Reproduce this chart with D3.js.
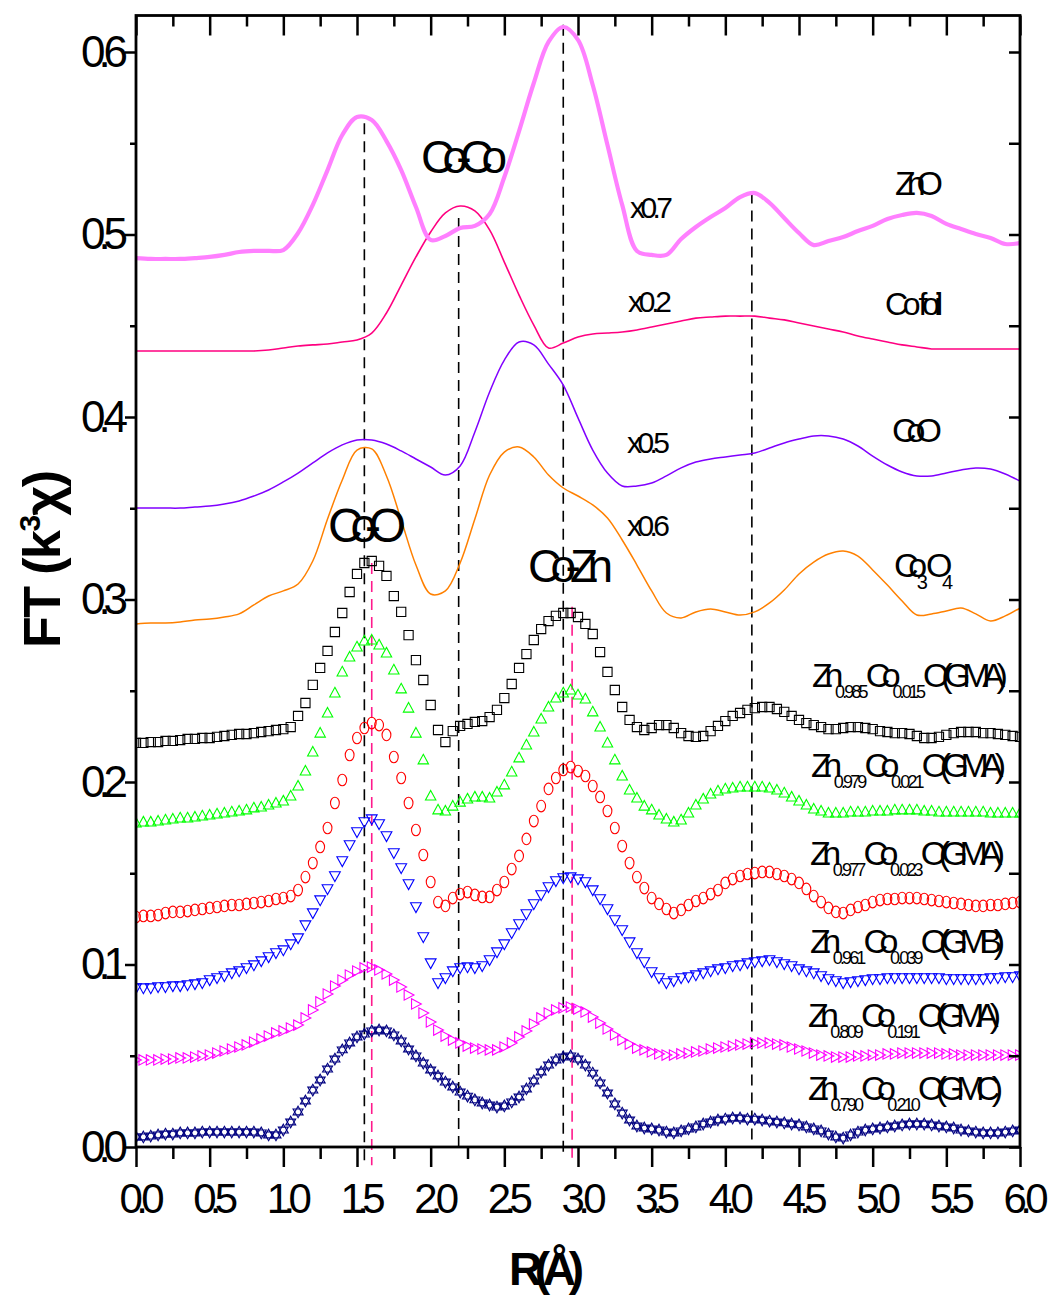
<!DOCTYPE html>
<html>
<head>
<meta charset="utf-8">
<title>Fourier transforms of k3-weighted EXAFS, Co K-edge</title>
<script src="https://cdn.jsdelivr.net/npm/d3@7"></script>
<style>
  html, body { margin: 0; padding: 0; background: #ffffff; }
  svg { display: block; font-family: "Liberation Sans", Arial, Helvetica, sans-serif; }
</style>
</head>
<body>
<svg id="chart" width="1051" height="1296"></svg>
<script>
// ---------- R grids (Å) ----------
const rLine = d3.range(61).map(i => i / 10);   // 0.0 … 6.0, step 0.1
const rSym  = d3.range(121).map(i => i / 20);  // 0.00 … 6.00, step 0.05

// ---------- reference compounds (offset, scaled traces) ----------
const znO = [
  0.4871,0.4866,0.4866,0.4866,0.4871,0.4877,0.4888,0.4904,0.4910,0.4910,
  0.4915,0.5008,0.5162,0.5353,0.5545,0.5644,0.5627,0.5512,0.5353,0.5151,
  0.4970,0.4992,0.5036,0.5047,0.5112,0.5315,0.5567,0.5830,0.6055,0.6137,
  0.6066,0.5819,0.5490,0.5162,0.4910,0.4888,0.4888,0.4975,0.5041,0.5096,
  0.5145,0.5205,0.5227,0.5173,0.5090,0.5008,0.4942,0.4964,0.4986,0.5019,
  0.5047,0.5085,0.5107,0.5118,0.5101,0.5058,0.5030,0.5003,0.4981,0.4948,
  0.4953];
const coFoil = [
  0.4362,0.4362,0.4362,0.4362,0.4362,0.4362,0.4362,0.4362,0.4362,0.4367,
  0.4378,0.4389,0.4395,0.4400,0.4411,0.4422,0.4460,0.4570,0.4723,0.4877,
  0.5014,0.5118,0.5156,0.5129,0.5025,0.4849,0.4668,0.4504,0.4378,0.4405,
  0.4438,0.4455,0.4460,0.4466,0.4477,0.4493,0.4510,0.4526,0.4542,0.4548,
  0.4553,0.4553,0.4553,0.4542,0.4532,0.4515,0.4499,0.4482,0.4466,0.4444,
  0.4427,0.4411,0.4395,0.4384,0.4373,0.4373,0.4373,0.4373,0.4373,0.4373,
  0.4373];
const coO = [
  0.3501,0.3501,0.3501,0.3501,0.3507,0.3512,0.3523,0.3540,0.3567,0.3600,
  0.3644,0.3693,0.3748,0.3803,0.3847,0.3874,0.3874,0.3852,0.3814,0.3770,
  0.3726,0.3682,0.3732,0.3918,0.4137,0.4312,0.4411,0.4395,0.4290,0.4175,
  0.3995,0.3819,0.3693,0.3622,0.3622,0.3638,0.3677,0.3721,0.3753,0.3770,
  0.3781,0.3792,0.3803,0.3830,0.3858,0.3879,0.3896,0.3896,0.3879,0.3841,
  0.3786,0.3737,0.3699,0.3677,0.3677,0.3693,0.3710,0.3721,0.3715,0.3688,
  0.3649];
const co3o4 = [
  0.2866,0.2871,0.2871,0.2877,0.2888,0.2893,0.2904,0.2921,0.2970,0.3019,
  0.3047,0.3085,0.3211,0.3441,0.3655,0.3819,0.3825,0.3677,0.3436,0.3189,
  0.3030,0.3047,0.3200,0.3441,0.3682,0.3808,0.3836,0.3781,0.3682,0.3611,
  0.3567,0.3518,0.3447,0.3326,0.3189,0.3047,0.2926,0.2899,0.2932,0.2948,
  0.2932,0.2915,0.2932,0.2981,0.3052,0.3140,0.3205,0.3249,0.3266,0.3238,
  0.3162,0.3079,0.2992,0.2915,0.2921,0.2937,0.2953,0.2921,0.2882,0.2910,
  0.2953];

// ---------- Zn(1-x)Co(x)O films (symbols, offset) ----------
const zn985 = [
  0.2214,0.2214,0.2219,0.2219,0.2225,0.2225,0.2230,0.2236,0.2236,0.2241,
  0.2241,0.2247,0.2252,0.2258,0.2263,0.2263,0.2268,0.2274,0.2279,0.2285,
  0.2290,0.2301,0.2362,0.2433,0.2532,0.2625,0.2718,0.2822,0.2926,0.3041,
  0.3140,0.3200,0.3211,0.3184,0.3129,0.3019,0.2932,0.2805,0.2668,0.2559,
  0.2422,0.2285,0.2219,0.2279,0.2307,0.2318,0.2329,0.2334,0.2356,0.2395,
  0.2460,0.2537,0.2625,0.2701,0.2778,0.2838,0.2882,0.2910,0.2926,0.2926,
  0.2904,0.2866,0.2811,0.2712,0.2603,0.2504,0.2411,0.2340,0.2301,0.2285,
  0.2296,0.2312,0.2312,0.2296,0.2268,0.2252,0.2247,0.2252,0.2279,0.2307,
  0.2334,0.2362,0.2378,0.2395,0.2405,0.2411,0.2411,0.2400,0.2384,0.2362,
  0.2340,0.2323,0.2312,0.2301,0.2290,0.2290,0.2296,0.2301,0.2301,0.2296,
  0.2290,0.2279,0.2274,0.2268,0.2268,0.2263,0.2252,0.2241,0.2241,0.2247,
  0.2258,0.2268,0.2274,0.2274,0.2274,0.2268,0.2268,0.2263,0.2258,0.2252,
  0.2247];
const zn979 = [
  0.1775,0.1781,0.1781,0.1786,0.1792,0.1797,0.1803,0.1803,0.1808,0.1814,
  0.1819,0.1825,0.1830,0.1836,0.1841,0.1847,0.1858,0.1863,0.1874,0.1885,
  0.1896,0.1923,0.1978,0.2060,0.2164,0.2268,0.2378,0.2488,0.2603,0.2685,
  0.2740,0.2773,0.2778,0.2751,0.2707,0.2614,0.2510,0.2405,0.2268,0.2121,
  0.1923,0.1847,0.1841,0.1868,0.1890,0.1907,0.1918,0.1918,0.1912,0.1945,
  0.1984,0.2055,0.2132,0.2203,0.2274,0.2345,0.2411,0.2460,0.2488,0.2504,
  0.2477,0.2455,0.2384,0.2301,0.2214,0.2121,0.2033,0.1956,0.1912,0.1868,
  0.1847,0.1819,0.1797,0.1781,0.1792,0.1830,0.1874,0.1907,0.1934,0.1951,
  0.1962,0.1967,0.1973,0.1973,0.1973,0.1973,0.1967,0.1956,0.1940,0.1918,
  0.1896,0.1874,0.1852,0.1841,0.1830,0.1830,0.1830,0.1836,0.1836,0.1836,
  0.1841,0.1841,0.1841,0.1847,0.1847,0.1847,0.1847,0.1841,0.1841,0.1836,
  0.1836,0.1836,0.1836,0.1836,0.1836,0.1836,0.1830,0.1830,0.1830,0.1830,
  0.1830];
const zn977 = [
  0.1260,0.1266,0.1266,0.1271,0.1282,0.1288,0.1288,0.1293,0.1299,0.1304,
  0.1310,0.1315,0.1321,0.1326,0.1326,0.1332,0.1337,0.1342,0.1348,0.1359,
  0.1364,0.1375,0.1408,0.1479,0.1556,0.1644,0.1748,0.1885,0.2011,0.2148,
  0.2241,0.2296,0.2323,0.2312,0.2258,0.2137,0.2022,0.1885,0.1737,0.1600,
  0.1452,0.1342,0.1321,0.1364,0.1386,0.1397,0.1381,0.1370,0.1370,0.1408,
  0.1452,0.1523,0.1595,0.1688,0.1786,0.1868,0.1962,0.2022,0.2066,0.2082,
  0.2060,0.2033,0.1978,0.1918,0.1841,0.1748,0.1649,0.1556,0.1479,0.1419,
  0.1364,0.1332,0.1304,0.1282,0.1299,0.1326,0.1348,0.1364,0.1386,0.1408,
  0.1447,0.1468,0.1485,0.1496,0.1501,0.1507,0.1507,0.1496,0.1485,0.1468,
  0.1447,0.1414,0.1375,0.1342,0.1310,0.1288,0.1282,0.1299,0.1315,0.1326,
  0.1342,0.1353,0.1359,0.1359,0.1364,0.1364,0.1364,0.1359,0.1353,0.1348,
  0.1342,0.1337,0.1332,0.1326,0.1321,0.1321,0.1326,0.1326,0.1332,0.1337,
  0.1342];
const zn961 = [
  0.0871,0.0871,0.0871,0.0877,0.0877,0.0882,0.0882,0.0888,0.0893,0.0899,
  0.0915,0.0926,0.0937,0.0953,0.0964,0.0981,0.0997,0.1019,0.1041,0.1063,
  0.1079,0.1112,0.1145,0.1216,0.1282,0.1353,0.1414,0.1485,0.1567,0.1655,
  0.1726,0.1781,0.1797,0.1770,0.1704,0.1611,0.1529,0.1441,0.1315,0.1151,
  0.1008,0.0899,0.0926,0.0964,0.0981,0.0986,0.0981,0.0992,0.1025,0.1068,
  0.1112,0.1173,0.1222,0.1277,0.1332,0.1381,0.1425,0.1458,0.1474,0.1479,
  0.1468,0.1452,0.1408,0.1359,0.1304,0.1244,0.1189,0.1123,0.1063,0.1014,
  0.0959,0.0926,0.0899,0.0910,0.0926,0.0932,0.0942,0.0953,0.0964,0.0975,
  0.0981,0.0992,0.0997,0.1008,0.1014,0.1019,0.1025,0.1014,0.1003,0.0992,
  0.0975,0.0964,0.0953,0.0937,0.0921,0.0910,0.0899,0.0904,0.0910,0.0915,
  0.0921,0.0921,0.0926,0.0926,0.0926,0.0926,0.0926,0.0926,0.0926,0.0926,
  0.0921,0.0921,0.0921,0.0921,0.0921,0.0921,0.0926,0.0926,0.0932,0.0932,
  0.0937];
const zn809 = [
  0.0477,0.0477,0.0477,0.0477,0.0482,0.0482,0.0488,0.0488,0.0493,0.0499,
  0.0504,0.0515,0.0526,0.0537,0.0548,0.0559,0.0575,0.0592,0.0608,0.0625,
  0.0636,0.0652,0.0668,0.0707,0.0751,0.0795,0.0838,0.0882,0.0915,0.0942,
  0.0964,0.0981,0.0986,0.0970,0.0948,0.0915,0.0877,0.0833,0.0784,0.0734,
  0.0685,0.0641,0.0608,0.0586,0.0570,0.0553,0.0542,0.0537,0.0532,0.0532,
  0.0548,0.0570,0.0603,0.0636,0.0674,0.0707,0.0734,0.0751,0.0762,0.0767,
  0.0756,0.0740,0.0712,0.0679,0.0647,0.0614,0.0586,0.0564,0.0542,0.0532,
  0.0521,0.0510,0.0504,0.0504,0.0510,0.0515,0.0521,0.0526,0.0537,0.0542,
  0.0548,0.0553,0.0559,0.0564,0.0570,0.0570,0.0570,0.0564,0.0559,0.0548,
  0.0537,0.0526,0.0515,0.0504,0.0499,0.0493,0.0493,0.0493,0.0499,0.0499,
  0.0504,0.0504,0.0510,0.0510,0.0515,0.0515,0.0515,0.0515,0.0515,0.0515,
  0.0510,0.0510,0.0504,0.0504,0.0504,0.0504,0.0504,0.0504,0.0504,0.0504,
  0.0504];
const zn790 = [
  0.0055,0.0055,0.0060,0.0066,0.0071,0.0071,0.0077,0.0077,0.0077,0.0082,
  0.0082,0.0082,0.0082,0.0082,0.0082,0.0082,0.0082,0.0077,0.0066,0.0066,
  0.0093,0.0137,0.0192,0.0252,0.0312,0.0367,0.0427,0.0482,0.0532,0.0570,
  0.0603,0.0619,0.0636,0.0641,0.0636,0.0614,0.0581,0.0537,0.0499,0.0460,
  0.0422,0.0389,0.0356,0.0329,0.0301,0.0279,0.0258,0.0241,0.0230,0.0219,
  0.0225,0.0247,0.0274,0.0318,0.0362,0.0411,0.0449,0.0477,0.0493,0.0499,
  0.0482,0.0449,0.0405,0.0351,0.0296,0.0236,0.0186,0.0148,0.0115,0.0104,
  0.0099,0.0093,0.0082,0.0077,0.0088,0.0099,0.0110,0.0126,0.0137,0.0148,
  0.0153,0.0159,0.0159,0.0153,0.0153,0.0148,0.0142,0.0137,0.0132,0.0126,
  0.0121,0.0110,0.0099,0.0088,0.0071,0.0055,0.0049,0.0066,0.0082,0.0093,
  0.0099,0.0104,0.0110,0.0115,0.0121,0.0126,0.0126,0.0126,0.0121,0.0115,
  0.0110,0.0104,0.0093,0.0088,0.0082,0.0077,0.0077,0.0077,0.0082,0.0088,
  0.0093];

// ---------- peak-position guides (R in Å, vertical extent in FT units) ----------
const guideR    = [1.55, 2.19, 2.90, 4.18];
const guideFrom = [0.561, 0.509, 0.615, 0.523];
const guideTo   = [-0.009, 0.000, -0.004, 0.004];
const shiftR    = [1.60, 2.96];
const shiftFrom = [0.320, 0.296];
const shiftTo   = [-0.010, -0.008];

// ---------- tick values ----------
const xMajor = [0, 0.5, 1, 1.5, 2, 2.5, 3, 3.5, 4, 4.5, 5, 5.5, 6];
const xMinor = [0.25, 0.75, 1.25, 1.75, 2.25, 2.75, 3.25, 3.75, 4.25, 4.75, 5.25, 5.75];
const yMajor = [0, 0.1, 0.2, 0.3, 0.4, 0.5, 0.6];
const yMinor = [0.05, 0.15, 0.25, 0.35, 0.45, 0.55];

// ---------- sample names (main text / subscript pairs) ----------
const sampleNames = [
  ["Zn", "0.985", "Co", "0.015", "O(GMA)"],
  ["Zn", "0.979", "Co", "0.021", "O(GMA)"],
  ["Zn", "0.977", "Co", "0.023", "O(GMA)"],
  ["Zn", "0.961", "Co", "0.039", "O(GMB)"],
  ["Zn", "0.809", "Co", "0.191", "O(GMA)"],
  ["Zn", "0.790", "Co", "0.210", "O(GMC)"]
];

// ================= drawing =================
const svg = d3.select("#chart");
const plot = { left: 136, right: 1020, top: 15.5, bottom: 1147 };
const x = d3.scaleLinear().domain([0, 6]).range([plot.left, plot.right]);
const y = d3.scaleLinear().domain([0, 0.62]).range([plot.bottom, plot.top]);

svg.append("rect").attr("width", 1051).attr("height", 1296).attr("fill", "#fff");

svg.append("defs").append("clipPath").attr("id", "plotArea")
  .append("rect")
  .attr("x", plot.left).attr("y", plot.top)
  .attr("width", plot.right - plot.left).attr("height", plot.bottom - plot.top);

// Tighten glyph spacing so a text spans `width` px. Pieces marked
// data-fixed keep their own spacing; the rest share the adjustment.
function fitWidth(text, width) {
  const node = text.node();
  const spans = text.selectAll("tspan").nodes();
  const parts = spans.length ? spans : [node];
  const free = parts.filter(p => p.getAttribute("data-fixed") !== "1");
  free.forEach(p => p.setAttribute("letter-spacing", "0px"));
  const w0 = node.getBBox().width;
  let em = 0;
  free.forEach(p => {
    const fs = parseFloat(getComputedStyle(p).fontSize);
    em += fs * p.textContent.length;
  });
  const last = free[free.length - 1];
  if (last === parts[parts.length - 1]) em -= parseFloat(getComputedStyle(last).fontSize);
  const k = (width - w0) / Math.max(1, em);
  free.forEach(p => {
    const fs = parseFloat(getComputedStyle(p).fontSize);
    p.setAttribute("letter-spacing", (k * fs).toFixed(2) + "px");
  });
  return text;
}

// text built from pieces; `sub` pieces are lowered and smaller, `sup` raised
function richText(parent, pieces, o) {
  const t = parent.append("text")
    .attr("x", o.x).attr("y", o.y)
    .attr("font-size", o.size)
    .attr("font-weight", o.weight || "normal")
    .attr("fill", "#000");
  let lowered = 0;
  pieces.forEach(p => {
    const want = p.sub ? o.subDy : (p.sup ? -o.supDy : 0);
    const ts = t.append("tspan").text(p.t)
      .attr("font-size", p.sub ? o.subSize : (p.sup ? o.supSize : o.size));
    if (want !== lowered) ts.attr("dy", want - lowered);
    if (p.sub && o.subSpacing !== undefined) {
      ts.attr("data-fixed", "1").attr("letter-spacing", (o.subSpacing * o.subSize).toFixed(2) + "px");
    }
    lowered = want;
  });
  if (o.width) fitWidth(t, o.width);
  return t;
}

// ----- guides -----
const guides = svg.append("g").attr("fill", "none").attr("stroke-width", 1.6)
  .attr("stroke-dasharray", "11,7");
guideR.forEach((r, i) => {
  guides.append("line")
    .attr("x1", x(r)).attr("x2", x(r))
    .attr("y1", y(guideFrom[i])).attr("y2", y(guideTo[i]))
    .attr("stroke", "#000");
});
shiftR.forEach((r, i) => {
  guides.append("line")
    .attr("x1", x(r)).attr("x2", x(r))
    .attr("y1", y(shiftFrom[i])).attr("y2", y(shiftTo[i]))
    .attr("stroke", "#ff1a8c");
});

// ----- reference compound traces -----
const lineSeries = [
  { values: co3o4,  color: "#ff8000", width: 1.5 },
  { values: coO,    color: "#8000ff", width: 1.5 },
  { values: coFoil, color: "#ff0080", width: 1.6 },
  { values: znO,    color: "#ff80ff", width: 4.2 }
];
const line = d3.line()
  .x(d => x(d[0])).y(d => y(d[1]))
  .curve(d3.curveCatmullRom.alpha(0.5));
const traces = svg.append("g").attr("clip-path", "url(#plotArea)");
lineSeries.forEach(s => {
  traces.append("path")
    .datum(rLine.map((r, i) => [r, s.values[i]]))
    .attr("d", line)
    .attr("fill", "none")
    .attr("stroke", s.color)
    .attr("stroke-width", s.width)
    .attr("stroke-linejoin", "round");
});

// ----- film spectra as open symbols -----
const shapes = {
  square:   "M-4.6,-4.6H4.6V4.6H-4.6Z",
  triUp:    "M0,-5.6L5.2,4H-5.2Z",
  ellipse:  "M-4.4,0A4.4,5.8 0 1,0 4.4,0A4.4,5.8 0 1,0 -4.4,0Z",
  triDown:  "M0,5.6L5.4,-4.2H-5.4Z",
  triRight: "M5.4,0L-4.4,-5.2V5.2Z",
  star:     "M0,-5.8L5,2.9H-5Z M0,5.8L5,-2.9H-5Z"
};
const symbolSeries = [
  { values: zn790, color: "#000080", shape: "star" },
  { values: zn809, color: "#ff00ff", shape: "triRight" },
  { values: zn961, color: "#0000ff", shape: "triDown" },
  { values: zn977, color: "#ff0000", shape: "ellipse" },
  { values: zn979, color: "#00ff00", shape: "triUp" },
  { values: zn985, color: "#000000", shape: "square" }
];
const marks = svg.append("g").attr("clip-path", "url(#plotArea)");
symbolSeries.forEach(s => {
  marks.append("g")
    .attr("fill", "none").attr("stroke", s.color).attr("stroke-width", 1.1)
    .selectAll("path")
    .data(rSym.map((r, i) => [r, s.values[i]]))
    .join("path")
    .attr("d", shapes[s.shape])
    .attr("transform", d => `translate(${x(d[0])},${y(d[1])})`);
});

// ----- axes -----
function styleAxis(g) {
  g.select(".domain").remove();
  g.selectAll(".tick line").attr("stroke", "#000").attr("stroke-width", 2.5);
}

// bottom
svg.append("g").attr("transform", `translate(0,${plot.bottom})`)
  .call(d3.axisBottom(x).tickValues(xMinor).tickSize(12).tickSizeOuter(0).tickFormat(""))
  .call(styleAxis);
const xAxisG = svg.append("g").attr("transform", `translate(0,${plot.bottom})`)
  .call(d3.axisBottom(x).tickValues(xMajor).tickSize(20).tickSizeOuter(0).tickFormat(d3.format(".1f")))
  .call(styleAxis);
xAxisG.selectAll(".tick text")
  .attr("font-size", 42).attr("font-family", null).attr("fill", "#000")
  .attr("text-anchor", "start").attr("x", -17).attr("y", 66).attr("dy", null)
  .each(function () { fitWidth(d3.select(this), 45); });

// top (ticks pointing in)
svg.append("g").attr("transform", `translate(0,${plot.top})`)
  .call(d3.axisTop(x).tickValues(xMinor).tickSize(-11).tickSizeOuter(0).tickFormat(""))
  .call(styleAxis);
svg.append("g").attr("transform", `translate(0,${plot.top})`)
  .call(d3.axisTop(x).tickValues(xMajor).tickSize(-20).tickSizeOuter(0).tickFormat(""))
  .call(styleAxis);

// left
svg.append("g").attr("transform", `translate(${plot.left},0)`)
  .call(d3.axisLeft(y).tickValues(yMinor).tickSize(6).tickSizeOuter(0).tickFormat(""))
  .call(styleAxis);
const yAxisG = svg.append("g").attr("transform", `translate(${plot.left},0)`)
  .call(d3.axisLeft(y).tickValues(yMajor).tickSize(11).tickSizeOuter(0).tickFormat(d3.format(".1f")))
  .call(styleAxis);
yAxisG.selectAll(".tick text")
  .attr("font-size", 44).attr("font-family", null).attr("fill", "#000")
  .attr("text-anchor", "start").attr("x", -55).attr("y", 14).attr("dy", null)
  .each(function () { fitWidth(d3.select(this), 47); });

// right (ticks pointing in)
svg.append("g").attr("transform", `translate(${plot.right},0)`)
  .call(d3.axisRight(y).tickValues(yMajor.concat(yMinor)).tickSize(-11).tickSizeOuter(0).tickFormat(""))
  .call(styleAxis);

// frame
svg.append("rect")
  .attr("x", plot.left).attr("y", plot.top)
  .attr("width", plot.right - plot.left).attr("height", plot.bottom - plot.top)
  .attr("fill", "none").attr("stroke", "#000").attr("stroke-width", 2.8);

// ----- axis titles -----
const titles = svg.append("g");
richText(titles, [{ t: "R(Å)" }], { x: 509, y: 1285, size: 46, weight: "bold", width: 75 });
const yTitle = titles.append("g").attr("transform", "translate(60,648) rotate(-90)");
richText(yTitle, [{ t: "FT (k" }, { t: "3", sup: true }, { t: "χ)" }],
  { x: 0, y: 0, size: 52, supSize: 30, supDy: 20, weight: "bold", width: 178 });

// ----- annotations -----
const notes = svg.append("g");
const plain = [
  { t: "Co-Co",   x: 421, y: 173, size: 46, w: 86 },
  { t: "Co-O",    x: 328, y: 542, size: 48, w: 78 },
  { t: "Co-Zn",   x: 528, y: 582, size: 46, w: 85 },
  { t: "x0.7",    x: 630, y: 218, size: 30, w: 43 },
  { t: "x0.2",    x: 628, y: 312, size: 30, w: 44 },
  { t: "x0.5",    x: 627, y: 453, size: 30, w: 43 },
  { t: "x0.6",    x: 627, y: 536, size: 30, w: 43 },
  { t: "ZnO",     x: 895, y: 195, size: 34, w: 48 },
  { t: "Co foil", x: 885, y: 315, size: 32, w: 58 },
  { t: "CoO",     x: 892, y: 442, size: 34, w: 50 }
];
plain.forEach(d => richText(notes, [{ t: d.t }], { x: d.x, y: d.y, size: d.size, width: d.w }));

richText(notes, [{ t: "Co" }, { t: "3", sub: true }, { t: "O" }, { t: "4", sub: true }],
  { x: 894, y: 577, size: 34, subSize: 20, subDy: 12, subSpacing: -0.1, width: 59 });

const sampleLayout = [
  { x: 812, y: 687,  w: 196 },
  { x: 811, y: 777,  w: 195 },
  { x: 810, y: 865,  w: 195 },
  { x: 810, y: 953,  w: 195 },
  { x: 808, y: 1027, w: 193 },
  { x: 808, y: 1100, w: 195 }
];
sampleNames.forEach((parts, i) => {
  const L = sampleLayout[i];
  richText(notes, parts.map((t, j) => ({ t, sub: j % 2 === 1 })),
    { x: L.x, y: L.y, size: 34, subSize: 18, subDy: 11, subSpacing: -0.16, width: L.w });
});
</script>
</body>
</html>
